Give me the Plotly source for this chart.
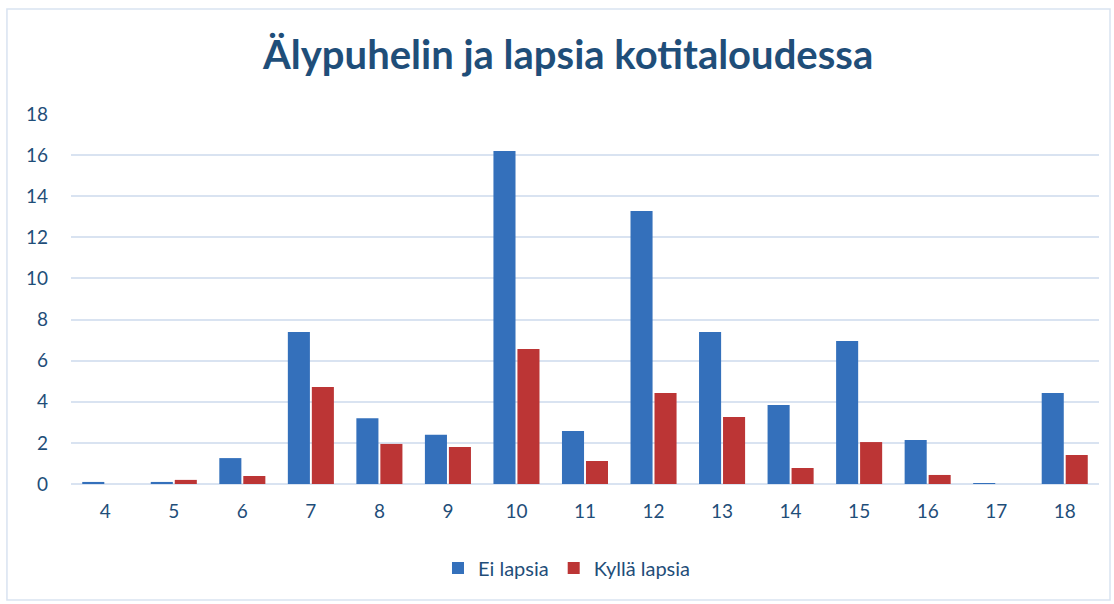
import plotly.graph_objects as go

# category labels (x axis)
categories = ["4", "5", "6", "7", "8", "9", "10", "11", "12", "13", "14", "15", "16", "17", "18"]

# series values
ei_lapsia = [0.1, 0.1, 1.26, 7.4, 3.2, 2.4, 16.2, 2.58, 13.28, 7.39, 3.84, 6.96, 2.14, 0.03, 4.43]
kylla_lapsia = [0, 0.2, 0.39, 4.72, 1.95, 1.8, 6.57, 1.12, 4.43, 3.26, 0.78, 2.04, 0.44, 0, 1.41]

y_ticks = [0, 2, 4, 6, 8, 10, 12, 14, 16, 18]

text_color = "#1f4e79"
grid_color = "#d9e3f1"
font_family = "Lato, Calibri, sans-serif"

fig = go.Figure()
fig.add_trace(go.Bar(
    name="Ei lapsia",
    x=categories,
    y=ei_lapsia,
    marker=dict(color="#3470bb", line=dict(width=0)),
))
fig.add_trace(go.Bar(
    name="Kyllä lapsia",
    x=categories,
    y=kylla_lapsia,
    marker=dict(color="#bc3535", line=dict(width=0)),
))

# outer chart border, drawn in plot-area paper units
fig.add_shape(
    type="rect", xref="paper", yref="paper",
    x0=-0.0623, x1=1.0107, y0=-0.3135, y1=1.2838,
    line=dict(color=grid_color, width=1.5),
    layer="below",
)

fig.update_layout(
    width=1114,
    height=604,
    margin=dict(l=71, r=15, t=114, b=120),
    paper_bgcolor="white",
    plot_bgcolor="white",
    font=dict(family=font_family, color=text_color, size=19),
    title=dict(
        text="<b>Älypuhelin ja lapsia kotitaloudessa</b>",
        x=0.51, xanchor="center",
        y=0.909, yanchor="middle",
        font=dict(size=40, color=text_color, family=font_family),
    ),
    barmode="group",
    bargap=0.3,
    bargroupgap=0.08,
    xaxis=dict(
        showgrid=False,
        showline=False,
        ticks="",
        tickfont=dict(size=19, color=text_color),
        ticklabelstandoff=14,
    ),
    yaxis=dict(
        range=[0, 18],
        tickvals=y_ticks,
        showgrid=True,
        gridcolor=grid_color,
        gridwidth=2,
        zeroline=True,
        zerolinecolor=grid_color,
        zerolinewidth=2,
        showline=False,
        ticks="",
        tickfont=dict(size=19, color=text_color),
        ticklabelstandoff=22,
    ),
    legend=dict(
        orientation="h",
        x=0.482, xanchor="center",
        y=-0.227, yanchor="middle",
        font=dict(size=20, color=text_color),
        itemwidth=30,
        traceorder="normal",
    ),
)

# page has a default 8px body margin; remove it so the figure sits at 0,0
fig.write_html(
    "out.html",
    config={"displayModeBar": False},
    post_script="document.body.style.margin='0px';",
)
